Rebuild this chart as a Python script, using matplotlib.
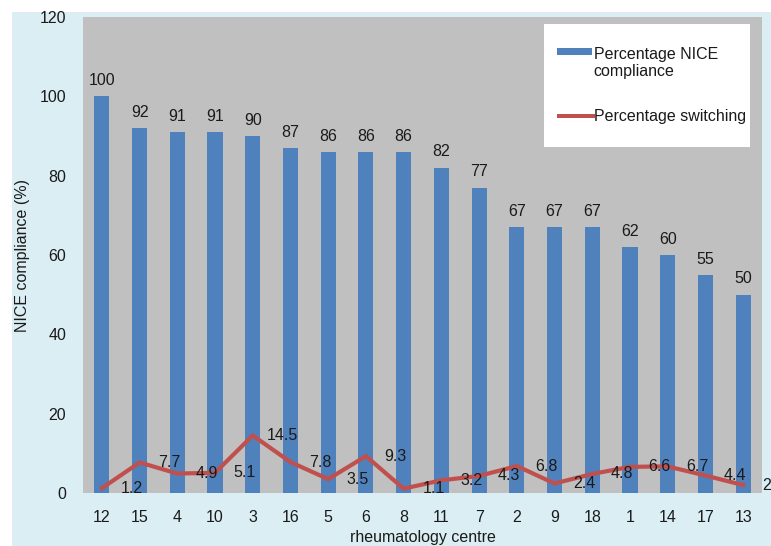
import matplotlib
matplotlib.use("Agg")
import matplotlib.pyplot as plt
import numpy as np
from matplotlib.patches import Rectangle
from matplotlib.legend_handler import HandlerPatch

# rheumatology centres, ordered by NICE compliance
centres = ["12", "15", "4", "10", "3", "16", "5", "6", "8",
           "11", "7", "2", "9", "18", "1", "14", "17", "13"]
compliance = [100, 92, 91, 91, 90, 87, 86, 86, 86,
              82, 77, 67, 67, 67, 62, 60, 55, 50]
switching = [1.2, 7.7, 4.9, 5.1, 14.5, 7.8, 3.5, 9.3, 1.1,
             3.2, 4.3, 6.8, 2.4, 4.8, 6.6, 6.7, 4.4, 2]
switch_labels = ["1.2", "7.7", "4.9", "5.1", "14.5", "7.8", "3.5", "9.3", "1.1",
                 "3.2", "4.3", "6.8", "2.4", "4.8", "6.6", "6.7", "4.4", "2"]

BLUE = "#4f81bd"
RED = "#c0504d"
GREY = "#c0c0c0"
PANEL = "#dbeef4"
TXT = "#1a1a1a"
FS = 11.5

plt.rcParams["font.family"] = ["Liberation Sans", "DejaVu Sans"]


def bar_key(legend, orig_handle, xdescent, ydescent, width, height, fontsize):
    # wide flat swatch sitting level with the first text line
    return Rectangle((-xdescent - 6.5, -ydescent + 10), width + 6.5, 5)


def line_key(legend, orig_handle, xdescent, ydescent, width, height, fontsize):
    return Rectangle((-xdescent - 6.5, -ydescent + height / 2 - 1.5), width + 9, 3)


fig = plt.figure(figsize=(7.71, 5.46), dpi=100, facecolor="white")
fig.patches.append(Rectangle((12 / 771, 0), 1, 534 / 546, transform=fig.transFigure,
                             facecolor=PANEL, edgecolor="none", zorder=-10))

ax = fig.add_axes([83 / 771, 1 - 493 / 546, 679 / 771, 476 / 546])
ax.set_facecolor(GREY)

x = np.arange(len(centres))
ax.bar(x, compliance, width=0.4, color=BLUE, zorder=2)
for xi, v in zip(x, compliance):
    ax.annotate(str(v), (xi, v), xytext=(0, 6), textcoords="offset points",
                ha="center", va="bottom", fontsize=FS, color=TXT)

ax.plot(x, switching, color=RED, lw=3, zorder=3, solid_joinstyle="miter")
# switching labels sit one slot to the right; keep the last one at the edge
for xi, v, lab in zip(x, switching, switch_labels):
    ax.text(min(xi + 0.79, len(centres) - 0.39), v, lab, ha="center", va="center",
            fontsize=FS, color=TXT, zorder=4, clip_on=False)

ax.set_xlim(-0.5, len(centres) - 0.5)
ax.set_ylim(0, 120)
ax.set_yticks(range(0, 121, 20))
ax.set_xticks(x)
ax.set_xticklabels(centres)
ax.tick_params(length=0, labelsize=FS, labelcolor=TXT)
ax.tick_params(axis="y", pad=12)
ax.tick_params(axis="x", pad=12)
for s in ax.spines.values():
    s.set_visible(False)

ax.set_ylabel("NICE compliance (%)", fontsize=FS, color=TXT, labelpad=7)
ax.set_xlabel("rheumatology centre", fontsize=FS, color=TXT, labelpad=4)

h_bar = Rectangle((0, 0), 1, 1, facecolor=BLUE, edgecolor="none")
h_line = Rectangle((0, 0), 1, 1, facecolor=RED, edgecolor="none")
leg = ax.legend([h_bar, h_line], ["Percentage NICE\ncompliance", "Percentage switching"],
                handler_map={h_bar: HandlerPatch(patch_func=bar_key),
                             h_line: HandlerPatch(patch_func=line_key)},
                loc="upper left", bbox_to_anchor=(0.679, 0.985, 0.303, 0.0),
                mode="expand", fontsize=FS, frameon=True, fancybox=False,
                framealpha=1, edgecolor="none", facecolor="white",
                handlelength=1.6, handletextpad=0.1, labelspacing=1.9,
                borderpad=1.4, borderaxespad=0)
for t in leg.get_texts():
    t.set_color(TXT)

fig.savefig("out.png", dpi=100, facecolor=fig.get_facecolor())
